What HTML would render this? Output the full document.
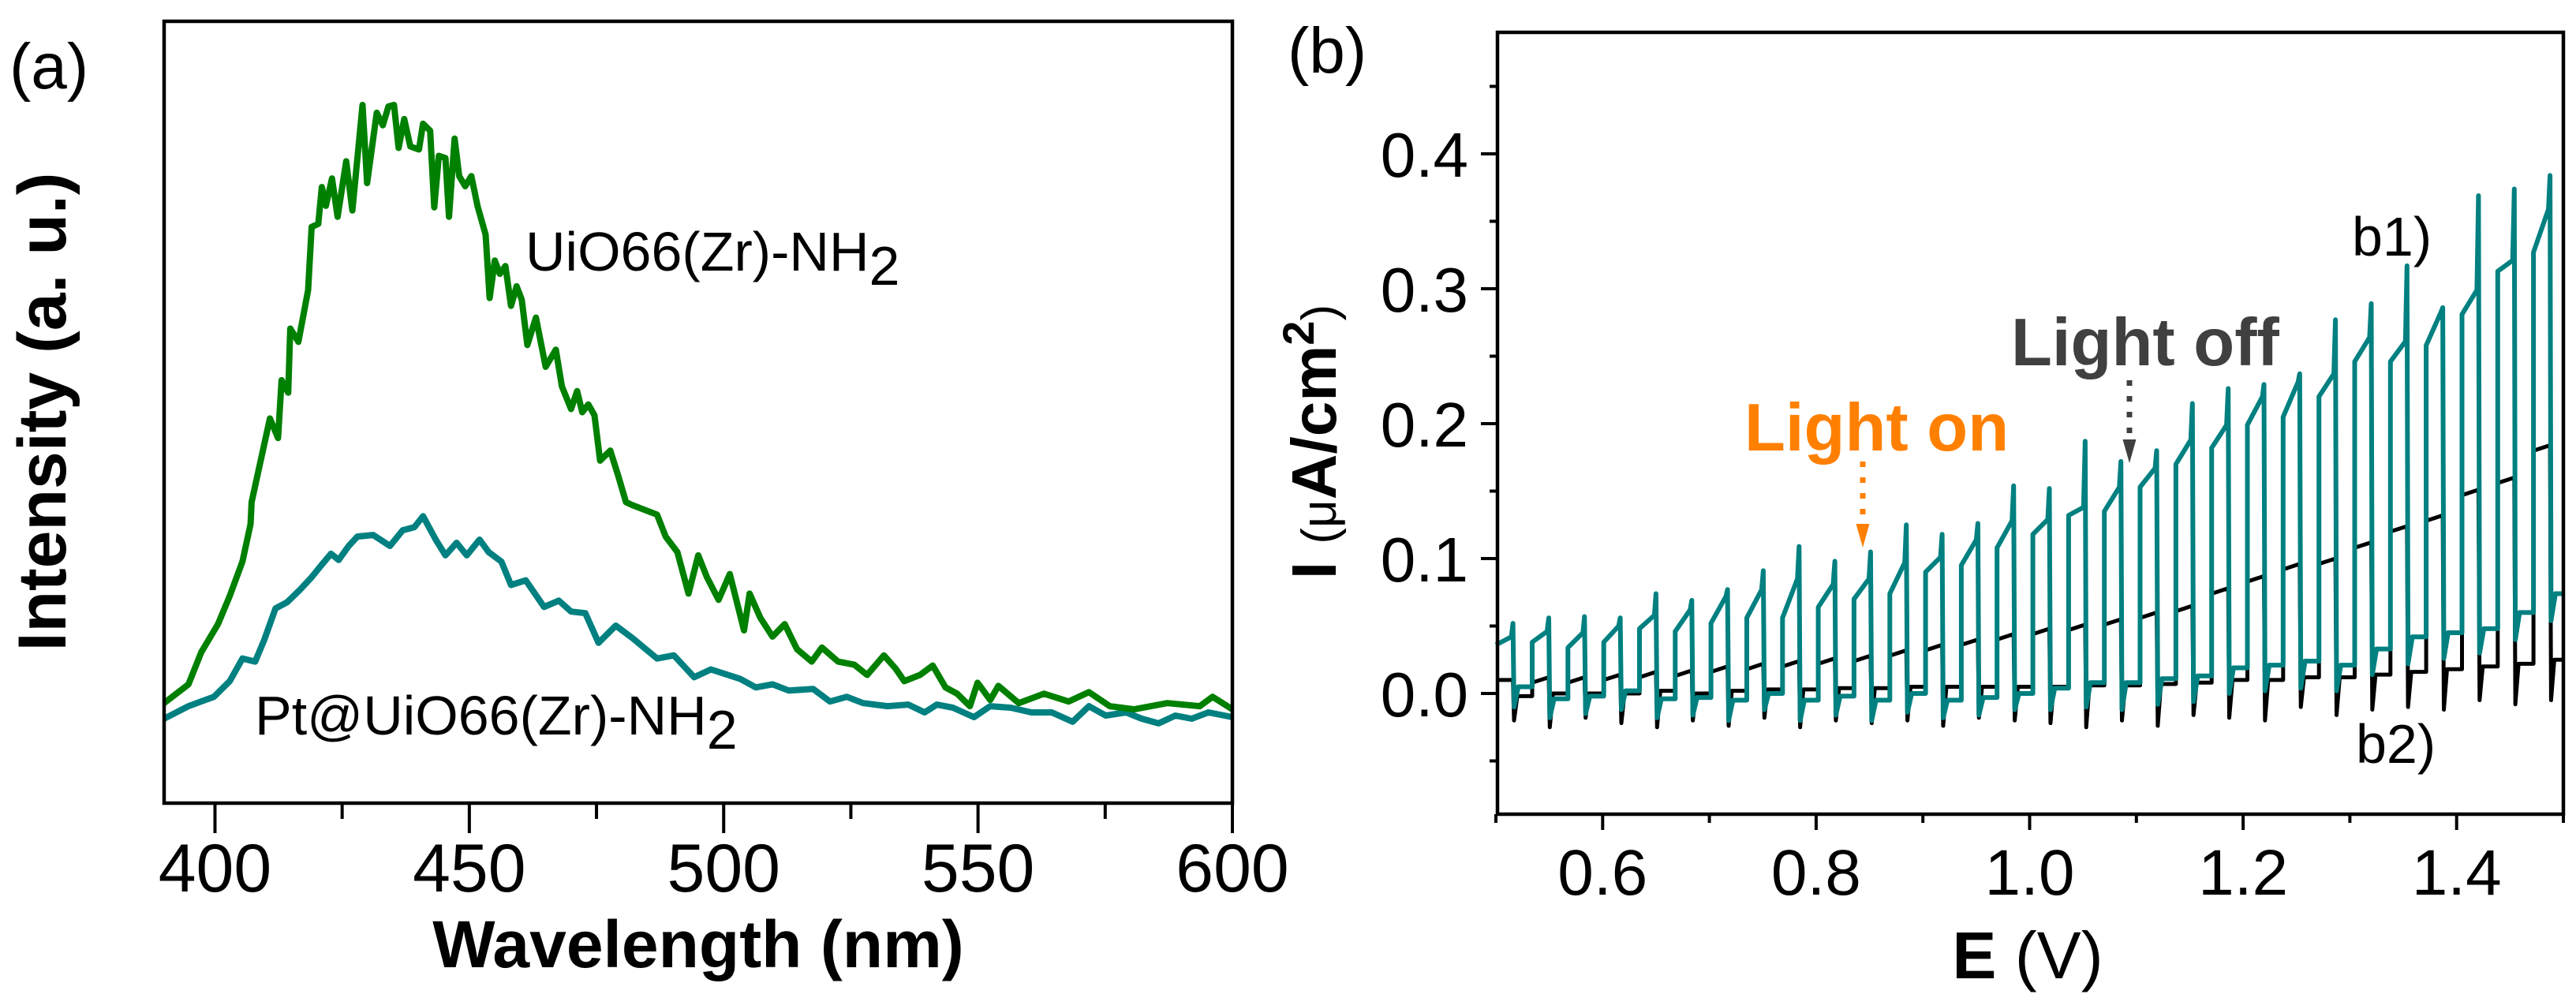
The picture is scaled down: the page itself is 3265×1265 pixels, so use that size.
<!DOCTYPE html>
<html>
<head>
<meta charset="utf-8">
<style>
html,body{margin:0;padding:0;background:#fff;}
svg{display:block;}
text{font-family:"Liberation Sans",Arial,sans-serif;}
</style>
</head>
<body>
<svg id="fig" width="3265" height="1265" viewBox="0 0 3265 1265" xmlns="http://www.w3.org/2000/svg">
  <rect x="0" y="0" width="3265" height="1265" fill="#fff"/>
  <g id="pa">
    <text x="12" y="112" font-size="82">(a)</text>
    <g id="pa-series"></g>
    <rect x="208" y="27" width="1354" height="991" fill="none" stroke="#000" stroke-width="4.5"/>
    <g id="pa-xticks"></g>
    <text x="885" y="1226" font-size="84" font-weight="bold" text-anchor="middle">Wavelength (nm)</text>
    <text transform="translate(83,522) rotate(-90)" font-size="86" font-weight="bold" text-anchor="middle">Intensity (a. u.)</text>
    <text x="666" y="343" font-size="70">UiO66(Zr)-NH<tspan dy="18" font-size="70">2</tspan></text>
    <text x="323" y="931" font-size="70">Pt@UiO66(Zr)-NH<tspan dy="18" font-size="70">2</tspan></text>
  </g>
  <g id="pb">
    <text x="1632" y="92" font-size="82">(b)</text>
    <g id="pb-series"></g>
    <rect x="1898" y="41" width="1351" height="991" fill="none" stroke="#000" stroke-width="4.5"/>
    <g id="pb-xticks"></g>
    <g id="pb-yticks"></g>
    <text x="2570" y="1240" font-size="84" text-anchor="middle"><tspan font-weight="bold">E</tspan> (V)</text>
    <text transform="translate(1693,560) rotate(-90)" font-size="80" font-weight="bold" text-anchor="middle">I <tspan font-weight="normal" font-size="62">(μ</tspan>A/cm<tspan dy="-28" font-size="56">2</tspan><tspan dy="28" font-weight="normal" font-size="62">)</tspan></text>
    <text x="2981" y="324" font-size="70">b1)</text>
    <text x="2986" y="967" font-size="70">b2)</text>
    <text x="2211" y="571" font-size="85" font-weight="bold" fill="#FF8000">Light on</text>
    <line x1="2361" y1="585" x2="2361" y2="662" stroke="#FF8000" stroke-width="7" stroke-dasharray="7,13"/>
    <path d="M2352.5 664 L2369.5 664 L2361 694 Z" fill="#FF8000"/>
    <text x="2549" y="463" font-size="85" font-weight="bold" fill="#404040">Light off</text>
    <line x1="2699" y1="482" x2="2699" y2="555" stroke="#404040" stroke-width="7" stroke-dasharray="7,13"/>
    <path d="M2690.5 557 L2707.5 557 L2699 587 Z" fill="#404040"/>
  </g>
</svg>
<script>
const wlGreen = [390,394.8,397.3,400.6,402.9,405.4,407,407.2,410.8,412.4,413.1,414.4,414.8,416.4,418.3,419,420.3,421,421.8,423,424.1,425.8,427,429,429.9,431.8,433,434.1,435.2,436.1,437.2,438.4,440.1,440.9,442.3,443.1,444,445.3,446,447.1,448,449.2,450.4,451.6,453.2,454,455,456,457.1,458.2,459.3,460.3,461.4,463.1,465,467,468.2,470,471.2,472.2,473.4,474.6,475.7,477.7,479.3,480.8,482.1,486.9,488.6,490.9,493.1,495,496.7,499,501.2,504,505.1,507.2,509.6,512,514.4,517.3,519.3,522.5,525.7,528.2,531.5,533.8,535.5,538.6,541.1,543.6,545.9,548.4,549.9,552.4,554,558,563,567.8,571.8,575.9,580.7,587.2,593.6,596.1,600];
const intGreen = [12.8,15.2,19.3,22.9,26.5,30.9,35.7,38.5,49.2,46.7,54.1,52.5,60.7,59,65.6,73.7,74.1,78.8,76.4,79.9,75,82.1,75.8,89.3,79.3,88.3,86.7,89.1,89.3,83.8,87.5,84,83.6,86.9,86,76.2,82.8,82.5,75,85,80.2,78.9,80.2,76.4,72.7,64.6,69.4,67.7,68.7,63.6,66.1,64.4,58.6,62.1,55.8,58,53.3,50.4,52.7,50,51,49.6,43.8,45.1,41.8,38.5,38.1,36.9,34.1,32.1,26.8,31.7,28.9,26,29.3,22.1,26.8,23.7,21.3,22.9,19.7,18.1,19.9,18.1,17.7,16.4,18.9,17.2,15.6,16.4,17.6,14.8,14,12.4,15.4,13.2,15,12.8,14,13,14.2,12.4,12,12.8,12.4,13.6,12];
const wlTeal = [390,394.8,399.8,402.9,405.4,407.9,409.7,411.9,414.2,416.7,419,421,422.8,424.3,426.3,428,431.1,434.4,436.9,439.2,440.9,443.4,445.3,447.5,449.5,452,453.8,456.3,458.2,461.1,464.7,467.6,470,472.8,475.4,478.8,482.1,486.9,490.2,494.2,497.5,503.2,506.3,509.6,512.8,517.6,520.9,524.2,527.4,532.2,536.3,539.5,541.9,545.1,549.2,552.4,556.5,560.5,564.5,568.6,571.8,575.1,579.1,582.2,585.5,588.8,592,595.3,600];
const intTeal = [10.8,12.4,13.6,15.6,18.5,18.1,20.9,24.9,25.7,27.3,28.9,30.5,31.9,31.1,32.9,34.1,34.3,32.9,34.9,35.3,36.7,33.7,31.7,33.3,31.7,33.7,32.1,30.9,27.9,28.5,25.1,25.9,24.5,24.3,20.5,22.7,21.1,18.5,18.9,16.1,17.1,15.9,14.8,15.2,14.4,14.6,13,13.6,12.8,12.4,12.6,11.6,12.6,12.2,11,12.4,12.2,11.6,11.6,10.4,12.4,11.2,11.6,10.8,10.2,11.2,10.8,11.6,11];
const aTicksMajor = [400,450,500,550,600];
const aTicksMinor = [425,475,525,575];

const cycleOnStart = [0.5005,0.534,0.5675,0.601,0.6345,0.668,0.7015,0.735,0.7685,0.802,0.8355,0.869,0.9025,0.936,0.9695,1.003,1.0365,1.07,1.1035,1.137,1.1705,1.204,1.2375,1.271,1.3045,1.338,1.3715,1.405,1.4385,1.472];
const cycleOnEnd   = [0.517,0.5505,0.584,0.6175,0.651,0.6845,0.718,0.7515,0.785,0.8185,0.852,0.8855,0.919,0.9525,0.986,1.0195,1.053,1.0865,1.12,1.1535,1.187,1.2205,1.254,1.2875,1.321,1.3545,1.388,1.4215,1.455,1.4885];
const b1Start = [0.036,0.038,0.034,0.038,0.048,0.046,0.052,0.056,0.056,0.064,0.070,0.074,0.090,0.095,0.108,0.118,0.132,0.135,0.153,0.170,0.182,0.199,0.205,0.220,0.246,0.246,0.258,0.281,0.313,0.327];
const b1End   = [0.042,0.046,0.045,0.050,0.058,0.062,0.072,0.077,0.085,0.081,0.085,0.097,0.101,0.114,0.128,0.129,0.138,0.153,0.167,0.188,0.199,0.220,0.231,0.237,0.264,0.261,0.283,0.299,0.321,0.359];
const b1Peak  = [0.052,0.056,0.057,0.056,0.074,0.069,0.077,0.091,0.109,0.098,0.105,0.125,0.118,0.126,0.154,0.152,0.187,0.172,0.180,0.215,0.226,0.229,0.237,0.277,0.289,0.317,0.286,0.369,0.374,0.384];
const b1Off   = [0.005,-0.004,-0.002,0.002,-0.004,-0.003,-0.005,0.000,-0.005,-0.002,-0.005,0.000,-0.005,-0.003,0.000,0.004,0.008,0.008,0.011,0.013,0.019,0.021,0.024,0.021,0.033,0.042,0.045,0.048,0.060,0.074];
const b1Dip   = [-0.010,-0.018,-0.015,-0.012,-0.018,-0.016,-0.020,-0.012,-0.020,-0.016,-0.020,-0.014,-0.018,-0.016,-0.012,-0.012,-0.010,-0.012,-0.008,-0.006,0.000,0.002,0.004,0.002,0.014,0.022,0.026,0.030,0.040,0.054];
const b2On    = [0.010,0.012,0.012,0.014,0.016,0.017,0.020,0.022,0.024,0.026,0.028,0.032,0.036,0.040,0.044,0.048,0.051,0.055,0.060,0.065,0.078,0.087,0.096,0.100,0.112,0.124,0.132,0.151,0.160,0.184];
const b2Off   = [-0.002,0.000,0.000,0.000,0.002,0.000,0.002,0.003,0.003,0.004,0.004,0.005,0.005,0.005,0.005,0.005,0.006,0.006,0.007,0.008,0.010,0.010,0.012,0.012,0.014,0.016,0.018,0.020,0.022,0.025];
const b2Dip   = [-0.020,-0.025,-0.018,-0.022,-0.025,-0.020,-0.024,-0.018,-0.025,-0.020,-0.022,-0.020,-0.024,-0.018,-0.020,-0.022,-0.025,-0.020,-0.024,-0.016,-0.018,-0.020,-0.010,-0.016,-0.012,-0.010,-0.012,-0.005,-0.008,-0.005];
const bXTicksMajor = [0.6,0.8,1.0,1.2,1.4];
const bXTicksMinor = [0.5,0.7,0.9,1.1,1.3,1.5];
const bYTicksMajor = [0.0,0.1,0.2,0.3,0.4];
const bYTicksMinor = [-0.05,0.05,0.15,0.25,0.35,0.45];

const NS = "http://www.w3.org/2000/svg";
function mk(tag, attrs, parent){
  const el = document.createElementNS(NS, tag);
  for (const k in attrs) el.setAttribute(k, attrs[k]);
  parent.appendChild(el);
  return el;
}

const ax = v => 208 + (v - 390) * (1354 / 210);
const ay = v => 1018 - v * 9.91;
const paS = document.getElementById('pa-series');
function linePath(xs, ys, fx, fy){
  return xs.map((x,i)=>(i?'L':'M')+fx(x).toFixed(1)+' '+fy(ys[i]).toFixed(1)).join(' ');
}
let p = mk('path', {d: linePath(wlTeal, intTeal, ax, ay), fill:'none', stroke:'#008080', 'stroke-width':8, 'stroke-linejoin':'round'}, paS);


p = mk('path', {d: linePath(wlGreen, intGreen, ax, ay), fill:'none', stroke:'#008000', 'stroke-width':8, 'stroke-linejoin':'round'}, paS);



const paT = document.getElementById('pa-xticks');
aTicksMajor.forEach(v=>{
  const l = mk('line', {x1:ax(v), x2:ax(v), y1:1018, y2:1056, stroke:'#000', 'stroke-width':4}, paT);
  
  
  const t = mk('text', {x:ax(v), y:1130, 'font-size':86, 'text-anchor':'middle'}, paT);
  t.textContent = String(v);
  
  
});
aTicksMinor.forEach(v=>{
  const l = mk('line', {x1:ax(v), x2:ax(v), y1:1018, y2:1038, stroke:'#000', 'stroke-width':4}, paT);
  
  
});

const bx = v => 1896 + (v - 0.5) * 1353;
const by = v => 879 - v * 1710;
const pbS = document.getElementById('pb-series');

function b2Path(){
  let pts = [[0.5, b2On[0]]];
  for (let k=0;k<cycleOnStart.length;k++){
    const s = cycleOnStart[k], e = cycleOnEnd[k];
    if (k>0){ pts.push([s, b2Off[k-1]]); pts.push([s, b2On[k]-0.004]); }
    pts.push([e-0.001, b2On[k]]);
    pts.push([e, b2Dip[k]]);
    pts.push([e+0.003, b2Off[k]]);
  }
  pts.push([1.5, b2Off[b2Off.length-1]]);
  return pts.map((q,i)=>(i?'L':'M')+bx(q[0]).toFixed(1)+' '+by(q[1]).toFixed(1)).join(' ');
}
function b1Path(){
  let pts = [[0.5, b1Start[0]]];
  for (let k=0;k<cycleOnStart.length;k++){
    const s = cycleOnStart[k], e = cycleOnEnd[k];
    if (k>0){ pts.push([s, b1Off[k-1]]); pts.push([s, b1Start[k]]); }
    pts.push([e-0.0025, b1End[k]]);
    pts.push([e-0.001, b1Peak[k]]);
    pts.push([e, b1Dip[k]]);
    pts.push([e+0.004, b1Off[k]]);
  }
  pts.push([1.5, b1Off[b1Off.length-1]]);
  return pts.map((q,i)=>(i?'L':'M')+bx(q[0]).toFixed(1)+' '+by(q[1]).toFixed(1)).join(' ');
}
p = mk('path', {d: b2Path(), fill:'none', stroke:'#000', 'stroke-width':5, 'stroke-linejoin':'round'}, pbS);


p = mk('path', {d: b1Path(), fill:'none', stroke:'#008080', 'stroke-width':6, 'stroke-linejoin':'round'}, pbS);



const pbX = document.getElementById('pb-xticks');
bXTicksMajor.forEach(v=>{
  const l = mk('line', {x1:bx(v), x2:bx(v), y1:1032, y2:1052, stroke:'#000', 'stroke-width':4}, pbX);
  
  
  const t = mk('text', {x:bx(v), y:1134, 'font-size':82, 'text-anchor':'middle'}, pbX);
  t.textContent = v.toFixed(1);
  
  
});
bXTicksMinor.forEach(v=>{
  const l = mk('line', {x1:bx(v), x2:bx(v), y1:1032, y2:1043, stroke:'#000', 'stroke-width':4}, pbX);
  
  
});
const pbY = document.getElementById('pb-yticks');
bYTicksMajor.forEach(v=>{
  const l = mk('line', {x1:1877, x2:1898, y1:by(v), y2:by(v), stroke:'#000', 'stroke-width':4}, pbY);
  
  
  const t = mk('text', {x:1861, y:by(v)+29, 'font-size':80, 'text-anchor':'end'}, pbY);
  t.textContent = v.toFixed(1);
  
  
});
bYTicksMinor.forEach(v=>{
  const l = mk('line', {x1:1888, x2:1898, y1:by(v), y2:by(v), stroke:'#000', 'stroke-width':4}, pbY);
  
  
});
</script>
</body>
</html>
